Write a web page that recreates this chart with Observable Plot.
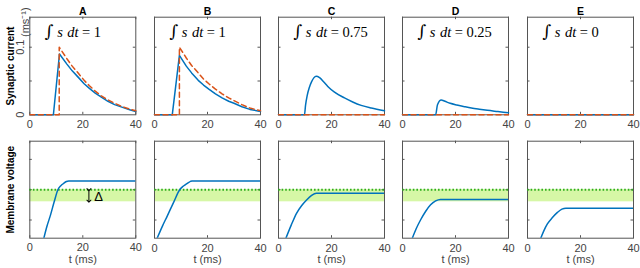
<!DOCTYPE html>
<html>
<head>
<meta charset="utf-8">
<script src="https://cdn.jsdelivr.net/npm/d3@7"></script>
<script src="https://cdn.jsdelivr.net/npm/@observablehq/plot@0.6"></script>
<style>
  html, body { margin: 0; padding: 0; background: #fff; }
  #fig { position: relative; width: 640px; height: 268px; overflow: hidden; background: #fff; }
  #fig svg { position: absolute; overflow: visible; }
</style>
</head>
<body>
<div id="fig"></div>
<script>
// ---------- data ----------
const panels = ["A", "B", "C", "D", "E"];
const integralLabels = ["1", "1", "0.75", "0.25", "0"];

// synaptic current s(t) (ms^-1), blue solid
const blueT = [
  [0, 8.9, 11.2, 14, 16, 18.4, 20.5, 22.5, 24.7, 27, 29.5, 32, 35, 38, 40],
  [0, 6.7, 9.4, 12, 14, 16.5, 18.5, 20.5, 23, 25.5, 28, 30, 33, 36, 40],
  [0, 9.8, 10.2, 10.8, 11.6, 12.5, 13.4, 14.2, 15.5, 17, 18.6, 21, 24.9, 28, 31.2, 35, 40],
  [0, 12.5, 13.2, 14.6, 16, 18, 20.5, 23.1, 26, 29, 32, 36, 40],
  [0, 40]
];
const blueS = [
  [0, 0, 0.090, 0.075, 0.065, 0.055, 0.046, 0.039, 0.032, 0.026, 0.020, 0.015, 0.011, 0.007, 0.005],
  [0, 0, 0.088, 0.072, 0.062, 0.051, 0.044, 0.038, 0.031, 0.025, 0.020, 0.017, 0.012, 0.008, 0.005],
  [0, 0, 0.014, 0.028, 0.040, 0.049, 0.055, 0.057, 0.055, 0.049, 0.042, 0.034, 0.025, 0.019, 0.014, 0.010, 0.006],
  [0, 0, 0.015, 0.022, 0.020, 0.017, 0.0145, 0.0123, 0.0100, 0.0082, 0.0066, 0.0048, 0.003],
  [0, 0]
];
// reference current, orange dashed
const orangeT = [
  [0, 11.1, 11.1, 14, 16, 18.4, 20.5, 22.5, 24.7, 27, 29.5, 32, 35, 38, 40],
  [0, 9.4, 9.4, 12, 14, 16.5, 18.5, 20.5, 23, 25.5, 28, 30, 33, 36, 40],
  [0, 40], [0, 40], [0, 40]
];
const orangeS = [
  [0, 0, 0.100, 0.083, 0.072, 0.061, 0.051, 0.043, 0.035, 0.028, 0.022, 0.017, 0.012, 0.008, 0.006],
  [0, 0, 0.100, 0.084, 0.073, 0.062, 0.053, 0.046, 0.038, 0.031, 0.025, 0.021, 0.015, 0.010, 0.006],
  [0, 0], [0, 0], [0, 0]
];

// membrane voltage (arbitrary units, threshold = 0)
const voltT = [
  [5.3, 6.5, 7.8, 9.2, 10.6, 11.7, 12.8, 13.8, 14.7, 40],
  [1.0, 3.0, 4.8, 7.3, 9.5, 10.6, 11.7, 12.8, 13.6, 14.2, 40],
  [2.8, 4.8, 6.8, 8.7, 10.6, 12.5, 14.3, 40],
  [3.7, 5.2, 6.8, 8.7, 10.6, 12.5, 14.3, 40],
  [5.0, 6.2, 7.5, 9.4, 11.3, 13.0, 14.5, 40]
];
const voltV = [
  [-1.6, -1.2, -0.84, -0.4, 0, 0.13, 0.21, 0.27, 0.29, 0.29],
  [-1.6, -1.2, -0.87, -0.40, 0, 0.10, 0.17, 0.235, 0.275, 0.29, 0.29],
  [-1.6, -1.17, -0.78, -0.53, -0.34, -0.19, -0.12, -0.12],
  [-1.6, -1.28, -1.0, -0.72, -0.5, -0.37, -0.32, -0.32],
  [-1.6, -1.35, -1.13, -0.92, -0.75, -0.64, -0.61, -0.61]
];
const threshold = 0;
const bandLow = -0.4;
const deltaArrow = [{t: 22.3, v1: 0, v2: -0.38}];
const deltaLabel = [{t: 24.3, v: -0.25, text: "Δ"}];

const xTicks = [0, 20, 40];
const currentTickLabels = [0, 0.1];
const currentTicks = [0.05, 0.1];
const voltTicks = [-1, 0, 1];
const currentDomain = [0, 0.1444];
const voltDomain = [-1.6, 1.6];

// ---------- drawing ----------
const BLUE = "#0072BD", ORANGE = "#D95319";
const BAND = "#d6f7a6", DOT = "#2fae1f";
const AX = "#555", LAB = "#444";
const FONT = "'Liberation Sans', Arial, Helvetica, sans-serif";
const W = 106;
const lefts = panels.map((_, i) => 29.3 + i * 124.35);
const fig = document.getElementById("fig");

function place(svg, left, top) {
  svg.style.left = left + "px";
  svg.style.top = top + "px";
  fig.appendChild(svg);
}

function mathify(svg) {
  d3.select(svg).selectAll("text").each(function () {
    const s = this.textContent;
    if (!s.startsWith("∫")) return;
    const val = s.split("= ")[1];
    const parts = [
      {t: "∫", dx: 0, style: "normal", size: 17, fam: "'DejaVu Serif', serif"},
      {t: "s", dx: 3.5, style: "italic"},
      {t: "dt", dx: 4.5, style: "italic"},
      {t: "=", dx: 3.5, style: "normal"},
      {t: val, dx: 3.5, style: "normal"}
    ];
    while (this.firstChild) this.removeChild(this.firstChild);
    for (const p of parts) {
      const ts = document.createElementNS("http://www.w3.org/2000/svg", "tspan");
      ts.textContent = p.t;
      if (p.dx) ts.setAttribute("dx", p.dx);
      ts.setAttribute("font-style", p.style);
      if (p.size) ts.setAttribute("font-size", p.size);
      if (p.fam) ts.setAttribute("font-family", p.fam);
      this.appendChild(ts);
    }
  });
}

panels.forEach((p, i) => {
  const mL = i === 0 ? 29.3 : 12, mR = 8;
  const width = mL + W + mR;
  const style = {fontFamily: FONT, fontSize: "11px", color: LAB, background: "transparent", overflow: "visible"};

  // ----- top row: synaptic current -----
  const topH = 130, tMT = 16.7, tMB = 15.7, tFH = topH - tMT - tMB;
  const blue = blueT[i].map((t, k) => ({t, s: blueS[i][k]}));
  const orange = orangeT[i].map((t, k) => ({t, s: orangeS[i][k]}));
  const topMarks = [
    Plot.frame({stroke: AX}),
    Plot.tickX(xTicks, {x: d => d, insetTop: tFH - 2.5, stroke: AX}),
    Plot.tickX(xTicks, {x: d => d, insetBottom: tFH - 2.5, stroke: AX}),
    Plot.tickY(currentTicks, {y: d => d, insetRight: W - 2.5, stroke: AX}),
    Plot.tickY(currentTicks, {y: d => d, insetLeft: W - 2.5, stroke: AX}),
    Plot.line(blue, {x: "t", y: "s", stroke: BLUE, strokeWidth: 1.5, curve: i < 2 ? "linear" : "monotone-x"}),
    Plot.line(orange, {x: "t", y: "s", stroke: ORANGE, strokeWidth: 1.5, strokeDasharray: "5,3.5"}),
    Plot.text([p], {text: d => d, frameAnchor: "top", dy: -10, fontWeight: "bold", fontSize: 10.5, fill: "#000"}),
    Plot.text([`∫ s dt = ${integralLabels[i]}`], {text: d => d, frameAnchor: "top-left", dx: 15, dy: 20, lineAnchor: "bottom", textAnchor: "start", fontSize: 14.5, fontFamily: "'Liberation Serif', 'Times New Roman', serif", fill: "#000"})
  ];
  if (i === 0) {
    topMarks.push(
      Plot.text(currentTickLabels, {y: d => d, text: d => String(d), frameAnchor: "left", dx: -9, rotate: -90, textAnchor: "middle", fill: LAB, fontSize: 11}),
      Plot.text(["(ms⁻¹)"], {text: d => d, frameAnchor: "top-left", dx: -9, dy: 5, rotate: -90, textAnchor: "middle", fill: LAB, fontSize: 11}),
      Plot.text(["Synaptic current"], {text: d => d, frameAnchor: "left", dx: -19, rotate: -90, textAnchor: "middle", fontWeight: "bold", fontSize: 10, fill: "#000"})
    );
  }
  const top = Plot.plot({
    width, height: topH, marginTop: tMT, marginBottom: tMB, marginLeft: mL, marginRight: mR,
    style,
    x: {domain: [0, 40], ticks: xTicks, tickSize: 0, tickPadding: 5.5, label: null},
    y: {domain: currentDomain, axis: null},
    marks: topMarks
  });
  mathify(top);
  place(top, lefts[i] - mL, 0);

  // ----- bottom row: membrane voltage -----
  const botH = 138, bMT = 10.7, bMB = 30.3, bFH = botH - bMT - bMB;
  const volt = voltT[i].map((t, k) => ({t, v: voltV[i][k]}));
  const botMarks = [
    Plot.rect([{x1: 0, x2: 40, y1: bandLow, y2: threshold}], {x1: "x1", x2: "x2", y1: "y1", y2: "y2", fill: BAND}),
    Plot.frame({stroke: AX}),
    Plot.tickX(xTicks, {x: d => d, insetTop: bFH - 2.5, stroke: AX}),
    Plot.tickX(xTicks, {x: d => d, insetBottom: bFH - 2.5, stroke: AX}),
    Plot.tickY(voltTicks, {y: d => d, insetRight: W - 2.5, stroke: AX}),
    Plot.tickY(voltTicks, {y: d => d, insetLeft: W - 2.5, stroke: AX}),
    Plot.ruleY([threshold], {y: d => d, stroke: DOT, strokeWidth: 2, strokeDasharray: "1.6,2"}),
    Plot.line(volt, {x: "t", y: "v", stroke: BLUE, strokeWidth: 1.5, curve: "monotone-x", clip: true}),
    Plot.text(["t (ms)"], {text: d => d, frameAnchor: "bottom", dy: 25, fill: LAB, fontSize: 11})
  ];
  if (i === 0) {
    botMarks.push(
      Plot.link(deltaArrow, {x1: "t", x2: "t", y1: "v1", y2: "v2", stroke: "#000", strokeWidth: 1, markerStart: "arrow", markerEnd: "arrow"}),
      Plot.text(deltaLabel, {x: "t", y: "v", text: "text", textAnchor: "start", fontSize: 13, fill: "#000"}),
      Plot.text(["Membrane voltage"], {text: d => d, frameAnchor: "left", dx: -19, rotate: -90, textAnchor: "middle", fontWeight: "bold", fontSize: 10, fill: "#000"})
    );
  }
  const bot = Plot.plot({
    width, height: botH, marginTop: bMT, marginBottom: bMB, marginLeft: mL, marginRight: mR,
    style,
    x: {domain: [0, 40], ticks: xTicks, tickSize: 0, tickPadding: 5.5, label: null},
    y: {domain: voltDomain, axis: null},
    marks: botMarks
  });
  place(bot, lefts[i] - mL, 130);
});
</script>
</body>
</html>
